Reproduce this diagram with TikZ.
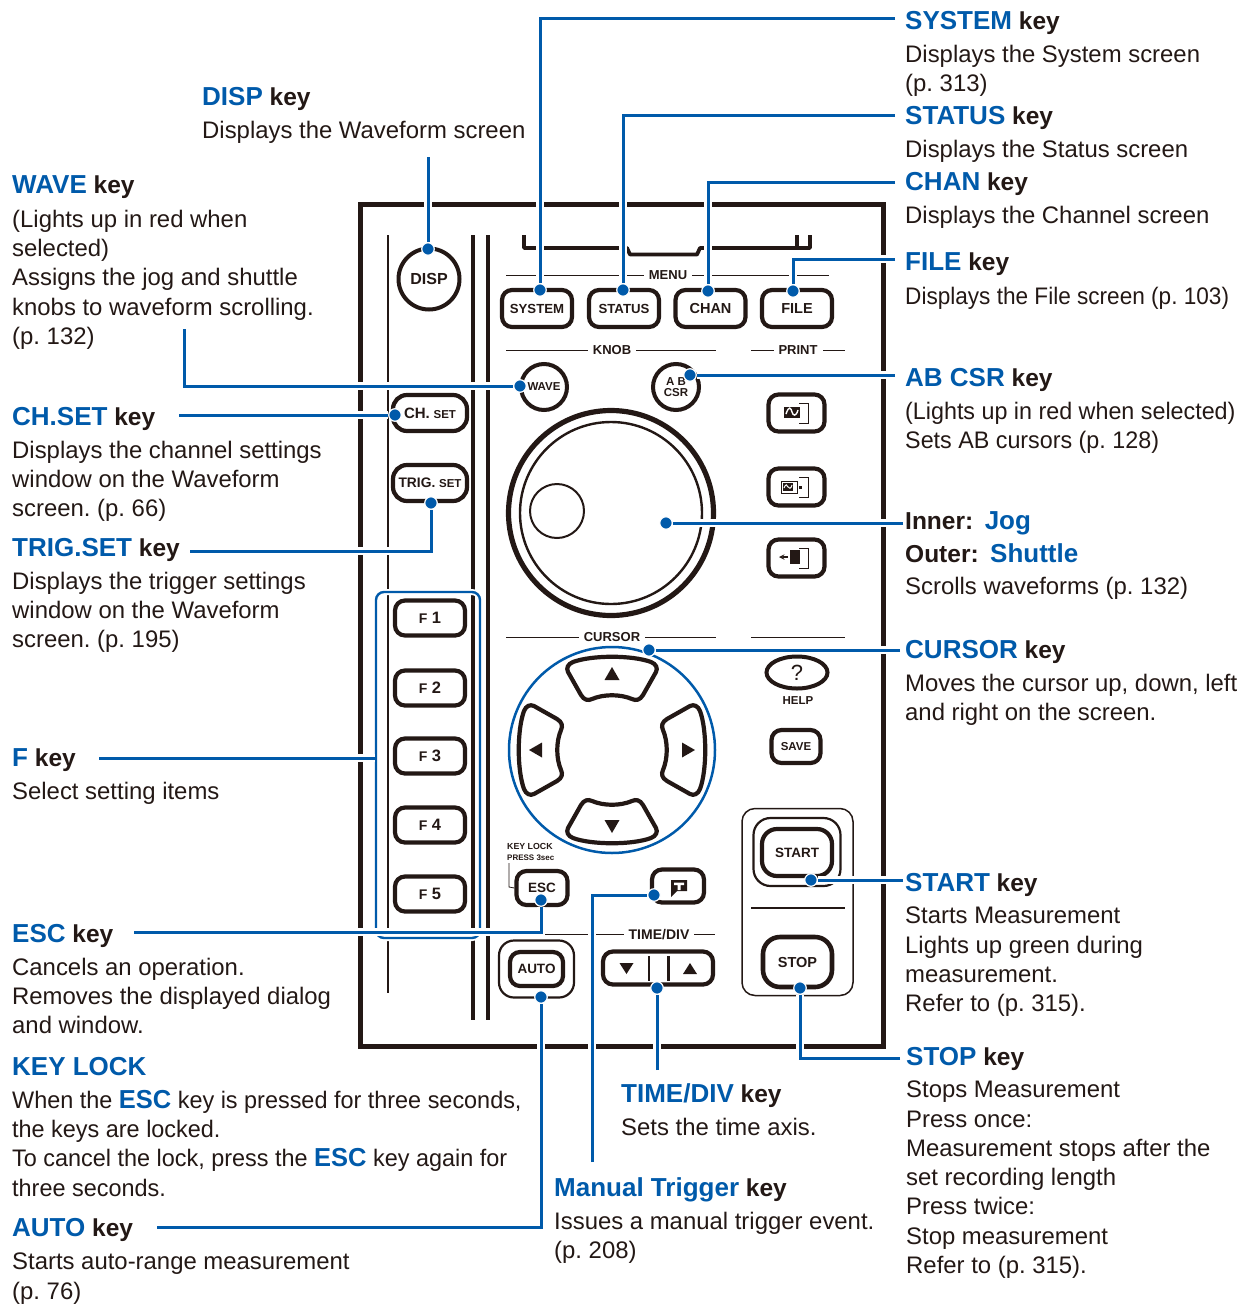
\documentclass[tikz,border=0pt]{standalone}
\usepackage{fontspec}
\setmainfont{Liberation Sans}
\usetikzlibrary{shapes.geometric}
\definecolor{keyblue}{RGB}{0,90,170}
\definecolor{panelink}{RGB}{35,24,21}
\newcommand{\kname}[1]{{\fontsize{26}{29}\selectfont\bfseries\color{keyblue}#1}}
\newcommand{\bigsmall}[3]{{\fontsize{#3}{15}\selectfont #1}~{\fontsize{11.5}{15}\selectfont #2}}
\frenchspacing
\begin{document}
\begin{tikzpicture}[x=1pt,y=-1pt,>=stealth,
  keyhead/.style={anchor=base west,inner sep=0pt,text=panelink,font=\fontsize{24.5}{29}\selectfont\bfseries},
  keybody/.style={anchor=north west,inner sep=0pt,yshift=18.2pt,align=left,text=panelink,font=\fontsize{23.9}{29.3}\selectfont,execute at begin node=\strut},
  keybtn/.style={draw=panelink,line width=4.2pt,rounded corners=10pt,inner sep=0pt,text=panelink,font=\fontsize{13.5}{15}\selectfont\bfseries},
  keyround/.style={circle,draw=panelink,line width=4pt,inner sep=0pt,text=panelink,align=center,font=\fontsize{13.5}{11}\selectfont\bfseries},
  groupbox/.style={draw=panelink,line width=1.5pt,rounded corners=13pt,inner sep=0pt},
  rulelabel/.style={fill=white,inner xsep=5pt,inner ysep=0pt,text=panelink,font=\fontsize{13}{15}\selectfont\bfseries},
  panelnote/.style={inner sep=0pt,text=panelink,font=\fontsize{11.5}{15}\selectfont\bfseries},
  thinrule/.style={draw=panelink,line width=1.8pt},
  thickrule/.style={draw=panelink,line width=4.4pt},
  leader/.style={draw=keyblue,line width=3pt,preaction={draw=white,line width=8pt}},
  keydot/.style={circle,fill=keyblue,draw=white,line width=1.2pt,inner sep=0pt,minimum size=12.5pt},
  bracket/.style={draw=panelink,line width=1pt}]
\useasboundingbox (0,0) rectangle (1250,1304);

\draw[panelink,line width=5pt] (360,204) rectangle (883,1046);
\draw[thinrule] (388,235) -- (388,993);
\draw[thickrule] (473,235) -- (473,1020);
\draw[thickrule] (488,235) -- (488,1020);
\draw[panelink,line width=3.8pt,line join=round] (524,235) -- (524,248) -- (627,248) -- (630,254.5) -- (697,254.5) -- (700,248) -- (797,248) -- (797,235) (797,248) -- (810,248) -- (810,235);

\draw[thinrule] (506,275.5) -- (829,275.5);
\node[rulelabel] (menulbl) at (668,275.5) {MENU};
\draw[thinrule] (506,350.5) -- (716,350.5);
\node[rulelabel] (knoblbl) at (612,350.5) {KNOB};
\draw[thinrule] (751,350.5) -- (845,350.5);
\node[rulelabel] (printlbl) at (798,350.5) {PRINT};
\draw[thinrule] (506,637.5) -- (716,637.5);
\node[rulelabel] (cursorlbl) at (612,637.5) {CURSOR};
\draw[thinrule] (751,637.5) -- (845,637.5);
\draw[thinrule] (545,934.5) -- (715,934.5);
\node[rulelabel,font=\fontsize{14}{15}\selectfont\bfseries] (timelbl) at (659,934.5) {TIME/DIV};
\draw[thinrule] (751,908) -- (845,908);

\node[keyround,minimum size=61pt,font=\fontsize{16}{18}\selectfont\bfseries] (dispkey) at (429,279) {DISP};
\node[keybtn,minimum width=70pt,minimum height=37pt,font=\fontsize{13.2}{15}\selectfont\bfseries] (systemkey) at (537,308.5) {SYSTEM};
\node[keybtn,minimum width=70pt,minimum height=37pt,font=\fontsize{13.2}{15}\selectfont\bfseries] (statuskey) at (624,308.5) {STATUS};
\node[keybtn,minimum width=70pt,minimum height=37pt,font=\fontsize{14.5}{15}\selectfont\bfseries] (chankey) at (710.5,308.5) {CHAN};
\node[keybtn,minimum width=70pt,minimum height=37pt,font=\fontsize{14.5}{15}\selectfont\bfseries] (filekey) at (797,308.5) {FILE};
\node[keyround,minimum size=46pt,font=\fontsize{11.5}{13}\selectfont\bfseries] (wavekey) at (544,387) {WAVE};
\node[keyround,minimum size=46pt,font=\fontsize{11.5}{10.5}\selectfont\bfseries] (csrkey) at (676,387) {A B\\CSR};
\node[keybtn,minimum width=74pt,minimum height=36pt,rounded corners=14pt] (chsetkey) at (430,413) {\bigsmall{CH.}{SET}{15}};
\node[keybtn,minimum width=74pt,minimum height=36pt,rounded corners=14pt] (trigsetkey) at (430,483) {\bigsmall{TRIG.}{SET}{13.8}};

\node[draw=keyblue,line width=2.4pt,rounded corners=8pt,inner sep=0pt,minimum width=104pt,minimum height=346pt,preaction={draw=white,line width=6pt}] (fgroup) at (428,765) {};
\foreach \n/\y in {1/618,2/688,3/756,4/825,5/894}
  \node[keybtn,minimum width=70pt,minimum height=35pt,font=\fontsize{16.5}{15}\selectfont\bfseries] (f\n) at (430,\y) {{\fontsize{14}{15}\selectfont F}~\n};

\node[circle,draw=panelink,line width=5.2pt,inner sep=0pt,minimum size=205pt] (jogouter) at (611,513) {};
\node[circle,draw=panelink,line width=2.4pt,inner sep=0pt,minimum size=182pt] (joginner) at (611,513) {};
\node[circle,draw=panelink,line width=2pt,inner sep=0pt,minimum size=54pt] (jogdimple) at (557,511) {};

\foreach \n/\y in {wave/413,copy/487,back/558}
  \node[keybtn,minimum width=56pt,minimum height=37pt] (print\n) at (796.5,\y) {};
\foreach \n/\y in {wave/413,copy/487,back/558}
  \draw[bracket] (799,\y-10) -- (808,\y-10) -- (808,\y+10) -- (799,\y+10);
\fill[panelink] (784,407) rectangle (800,418);
\draw[white,line width=1.4pt] (786,414) .. controls (789,405) and (791,408) .. (792,412) .. controls (793,416) and (796,417) .. (798,410);
\draw[panelink,line width=1pt] (781,481) rectangle (797,493);
\fill[panelink] (783,483) rectangle (793,491);
\draw[white,line width=1pt] (784,488) .. controls (786,483) and (787,485) .. (788,487) .. controls (789,489) and (791,489) .. (792,485);
\fill[panelink] (799,485.5) rectangle (802,488.5);
\fill[panelink] (790,550) rectangle (800,564);
\draw[->,panelink,line width=1.4pt] (788,557) -- (779,557);

\node[circle,draw=keyblue,line width=2.5pt,inner sep=0pt,minimum size=206pt] (cursorring) at (612,750) {};
\foreach \a in {0,90,180,270}{
\begin{scope}[shift={(612,750)},rotate=\a]
\draw[panelink,line width=4.2pt] (-39,-88) .. controls (-20,-95) and (20,-95) .. (39,-88) .. controls (44,-86) and (46,-82) .. (44,-78) -- (31,-55) .. controls (28,-50) and (24,-49) .. (20,-51) .. controls (8,-56) and (-8,-56) .. (-20,-51) .. controls (-24,-49) and (-28,-50) .. (-31,-55) -- (-44,-78) .. controls (-46,-82) and (-44,-86) .. (-39,-88) -- cycle;
\fill[panelink] (0,-83) -- (7.5,-70) -- (-7.5,-70) -- cycle;
\end{scope}
}

\node[ellipse,draw=panelink,line width=4pt,inner sep=0pt,minimum width=61pt,minimum height=32pt,text=panelink,font=\fontsize{22}{24}\selectfont] (helpkey) at (797,672.5) {?};
\node[panelnote] (helplbl) at (798,700.5) {HELP};
\node[keybtn,minimum width=49pt,minimum height=33pt,font=\fontsize{11.5}{15}\selectfont\bfseries] (savekey) at (796,746.5) {SAVE};

\node[groupbox,minimum width=111pt,minimum height=187pt] (startgroup) at (797.5,902) {};
\node[groupbox,line width=2.2pt,rounded corners=17pt,minimum width=87pt,minimum height=68pt] (startouter) at (797,852) {};
\node[keybtn,line width=4.2pt,rounded corners=15pt,minimum width=70pt,minimum height=47pt] (startkey) at (797,852.5) {START};
\node[keybtn,line width=4.6pt,rounded corners=17pt,minimum width=69pt,minimum height=50pt,font=\fontsize{14.5}{15}\selectfont\bfseries] (stopkey) at (797.5,962) {STOP};

\node[panelnote,anchor=base west,font=\fontsize{8.8}{11}\selectfont\bfseries] (locklbl) at (507,849) {KEY LOCK};
\node[panelnote,anchor=base west,font=\fontsize{8}{11}\selectfont\bfseries] (presslbl) at (507,860) {PRESS 3sec};
\node[keybtn,minimum width=51pt,minimum height=34pt] (esckey) at (542,888) {ESC};
\draw[panelink,line width=.8pt] (509,863) -- (509,887) -- (esckey.west);
\node[keybtn,minimum width=52pt,minimum height=33pt] (trigkey) at (678,886) {};
\fill[panelink] (671,880) rectangle (687,891) (671,891) -- (671,897) -- (677,891) -- cycle;
\fill[white] (674,882.5) rectangle (684,885) (677.5,885) rectangle (680.5,890);

\node[groupbox,line width=2.2pt,rounded corners=15pt,minimum width=75pt,minimum height=57pt] (autoouter) at (536.5,969) {};
\node[keybtn,minimum width=53pt,minimum height=34pt] (autokey) at (536.5,969) {AUTO};

\node[keybtn,minimum width=110pt,minimum height=33pt] (timekey) at (658,968) {};
\draw[panelink,line width=2.6pt] (649,956) -- (649,981) (668.5,956) -- (668.5,981);
\fill[panelink] (619.5,963) -- (633.5,963) -- (626.5,974) -- cycle;
\fill[panelink] (683,974) -- (697,974) -- (690,963) -- cycle;

\coordinate (dispend) at (428,157);
\coordinate (systemend) at (895,18);
\coordinate (statusend) at (895,115);
\coordinate (chanend) at (895,182);
\coordinate (fileend) at (895,259);
\coordinate (csrend) at (895,375);
\coordinate (waveend) at (184,329);
\coordinate (chsetend) at (179,415);
\coordinate (trigsetend) at (190,551);
\coordinate (fend) at (99,758);
\coordinate (escend) at (134,932);
\coordinate (autoend) at (157,1227);
\coordinate (trigend) at (592,1162);
\coordinate (timeend) at (657,1070);
\coordinate (jogend) at (903,523);
\coordinate (cursorend) at (900,650);
\coordinate (startend) at (903,880);
\coordinate (stopend) at (900,1058);

\node[keydot] (dispdot) at (428,249) {};
\node[keydot] (systemdot) at (540,290) {};
\node[keydot] (statusdot) at (623,290) {};
\node[keydot] (chandot) at (708,291) {};
\node[keydot] (filedot) at (793,291) {};
\node[keydot] (csrdot) at (690,375) {};
\node[keydot] (wavedot) at (520,386) {};
\node[keydot] (chsetdot) at (395,415) {};
\node[keydot] (trigsetdot) at (431,503) {};
\node[keydot] (escdot) at (541,900) {};
\node[keydot] (autodot) at (541,997) {};
\node[keydot] (trigdot) at (654,895) {};
\node[keydot] (timedot) at (657,988) {};
\node[keydot] (jogdot) at (666,523) {};
\node[keydot] (cursordot) at (649,650) {};
\node[keydot] (startdot) at (811,880) {};
\node[keydot] (stopdot) at (800,988) {};

\draw[leader] (dispend) -- (dispdot);
\draw[leader] (systemend) -| (systemdot);
\draw[leader] (statusend) -| (statusdot);
\draw[leader] (chanend) -| (chandot);
\draw[leader] (fileend) -| (filedot);
\draw[leader] (csrend) -- (csrdot);
\draw[leader] (waveend) |- (wavedot);
\draw[leader] (chsetend) -- (chsetdot);
\draw[leader] (trigsetend) -| (trigsetdot);
\draw[leader] (fend) -- (fend -| fgroup.west);
\draw[leader] (escend) -| (escdot);
\draw[leader] (autoend) -| (autodot);
\draw[leader] (trigend) |- (trigdot);
\draw[leader] (timeend) -- (timedot);
\draw[leader] (jogend) -- (jogdot);
\draw[leader] (cursorend) -- (cursordot);
\draw[leader] (startend) -- (startdot);
\draw[leader] (stopend) -| (stopdot);

\node[keyhead] (displbl) at (202,105) {\kname{DISP} key};
\node[keybody] (disptxt) at (202,136) {Displays the Waveform screen};
\node[keyhead] (systemlbl) at (905,29) {\kname{SYSTEM} key};
\node[keybody] (systemtxt) at (905,63) {Displays the System screen\\(p. 313)};
\node[keyhead] (statuslbl) at (905,124) {\kname{STATUS} key};
\node[keybody] (statustxt) at (905,155) {Displays the Status screen};
\node[keyhead] (chanlbl) at (905,190) {\kname{CHAN} key};
\node[keybody] (chantxt) at (905,221) {Displays the Channel screen};
\node[keyhead] (filelbl) at (905,270) {\kname{FILE} key};
\node[keybody,font=\fontsize{23.9}{29.3}\selectfont\addfontfeature{FakeStretch=0.945}] (filetxt) at (905,302) {Displays the File screen (p. 103)};
\node[keyhead] (csrlbl) at (905,386) {\kname{AB CSR} key};
\node[keybody,font=\fontsize{23.9}{29.3}\selectfont\addfontfeature{FakeStretch=0.975}] (csrtxt) at (905,420) {(Lights up in red when selected)\\Sets AB cursors (p. 128)};
\node[keyhead] (innerlbl) at (905,529) {Inner:\hspace{11.5pt}\kname{Jog}};
\node[keyhead] (outerlbl) at (905,562) {Outer:\hspace{11.5pt}\kname{Shuttle}};
\node[keybody] (jogtxt) at (905,592) {Scrolls waveforms (p. 132)};
\node[keyhead] (cursorkeylbl) at (905,658) {\kname{CURSOR} key};
\node[keybody] (cursortxt) at (905,692) {Moves the cursor up, down, left\\and right on the screen.};
\node[keyhead] (startlbl) at (905,891) {\kname{START} key};
\node[keybody] (starttxt) at (905,925) {Starts Measurement\\Lights up green during\\measurement.\\Refer to (p. 315).};
\node[keyhead] (stoplbl) at (906,1065) {\kname{STOP} key};
\node[keybody] (stoptxt) at (906,1099) {Stops Measurement\\Press once:\\Measurement stops after the\\set recording length\\Press twice:\\Stop measurement\\Refer to (p. 315).};
\node[keyhead] (timekeylbl) at (621,1102) {\kname{TIME/DIV} key};
\node[keybody] (timetxt) at (621,1133) {Sets the time axis.};
\node[keyhead] (triglbl) at (554,1196) {\kname{Manual Trigger} key};
\node[keybody] (trigtxt) at (554,1230) {Issues a manual trigger event.\\(p. 208)};
\node[keyhead] (wavelbl) at (12,193) {\kname{WAVE} key};
\node[keybody] (wavetxt) at (12,228) {(Lights up in red when\\selected)\\Assigns the jog and shuttle\\knobs to waveform scrolling.\\(p. 132)};
\node[keyhead] (chsetlbl) at (12,425) {\kname{CH.SET} key};
\node[keybody] (chsettxt) at (12,459) {Displays the channel settings\\window on the Waveform\\screen. (p. 66)};
\node[keyhead] (trigsetlbl) at (12,556) {\kname{TRIG.SET} key};
\node[keybody] (trigsettxt) at (12,590) {Displays the trigger settings\\window on the Waveform\\screen. (p. 195)};
\node[keyhead] (flbl) at (12,766) {\kname{F} key};
\node[keybody] (ftxt) at (12,797) {Select setting items};
\node[keyhead] (esclbl) at (12,942) {\kname{ESC} key};
\node[keybody] (esctxt) at (12,976) {Cancels an operation.\\Removes the displayed dialog\\and window.};
\node[keyhead] (keylocklbl) at (12,1075) {\kname{KEY LOCK}};
\node[keybody,font=\fontsize{23.9}{29.3}\selectfont\addfontfeature{FakeStretch=0.98}] (keylocktxt) at (12,1108) {When the \kname{ESC} key is pressed for three seconds,\\the keys are locked.\\To cancel the lock, press the \kname{ESC} key again for\\three seconds.};
\node[keyhead] (autolbl) at (12,1236) {\kname{AUTO} key};
\node[keybody] (autotxt) at (12,1271) {Starts auto-range measurement\\(p. 76)};
\end{tikzpicture}
\end{document}
